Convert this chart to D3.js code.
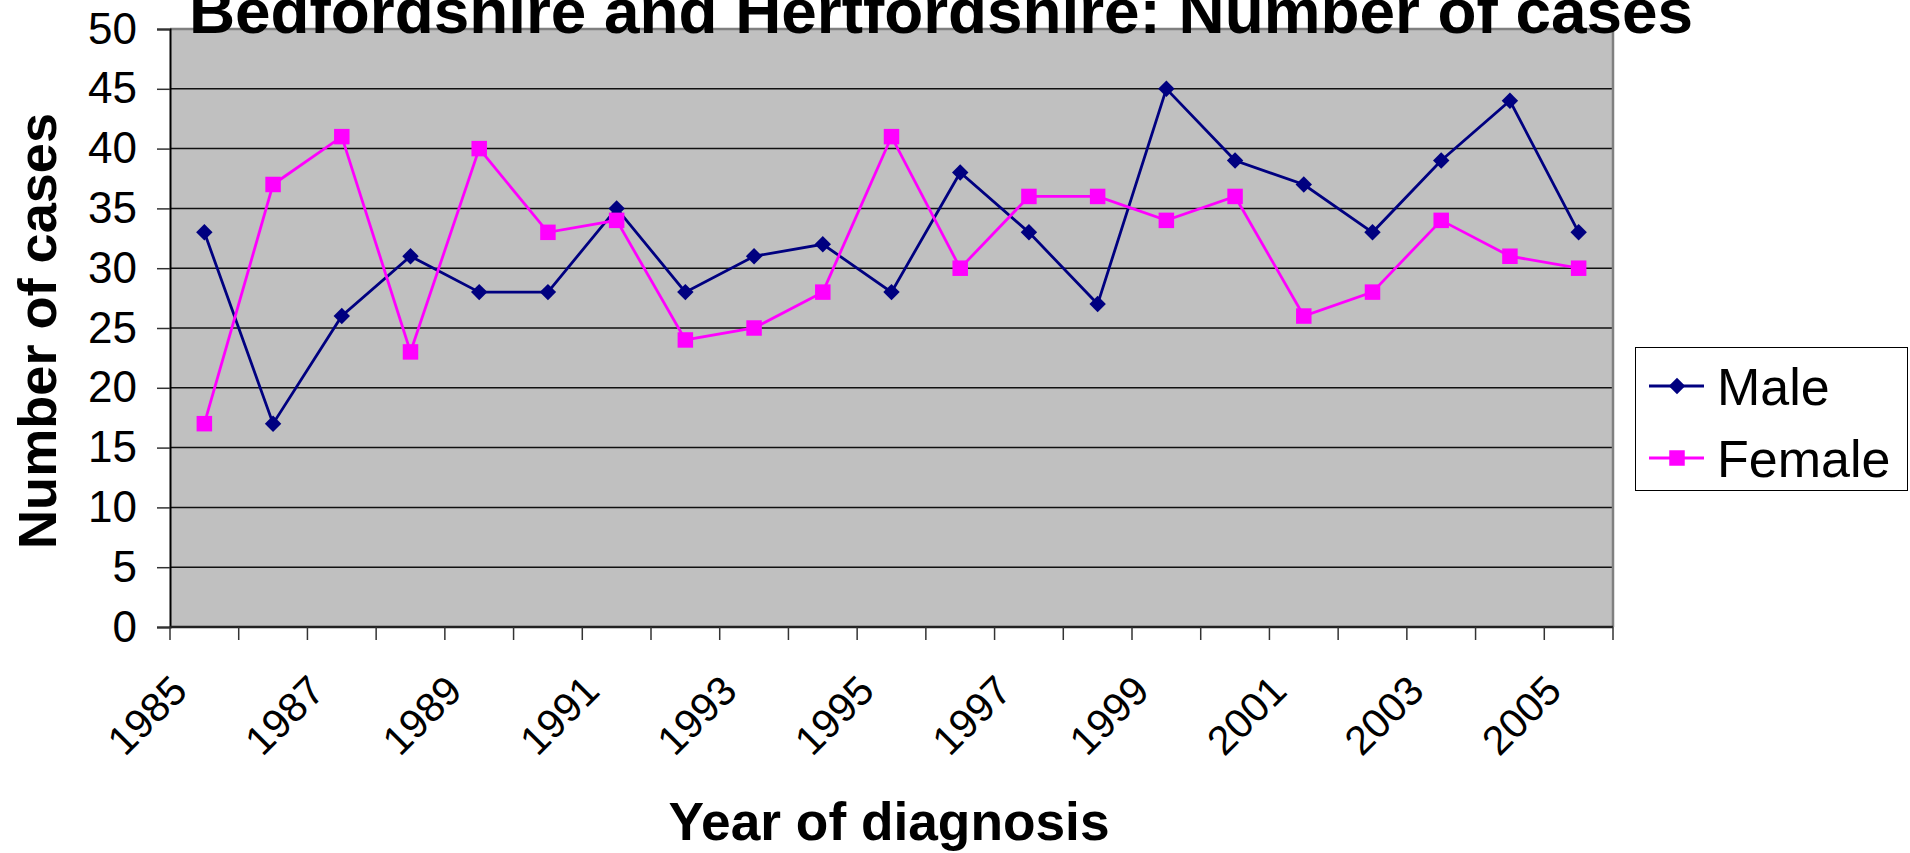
<!DOCTYPE html>
<html>
<head>
<meta charset="utf-8">
<script src="https://cdn.jsdelivr.net/npm/d3@7"></script>
<style>
  body { margin: 0; background: #fff; }
  svg { display: block; font-family: "Liberation Sans", Arial, sans-serif; }
</style>
</head>
<body>
<div id="chart"></div>
<script>
// chart values
var years = [1985,1986,1987,1988,1989,1990,1991,1992,1993,1994,1995,1996,1997,1998,1999,2000,2001,2002,2003,2004,2005];
var male = [33,17,26,31,28,28,35,28,31,32,28,38,33,27,45,39,37,33,39,44,33];
var female = [17,37,41,23,40,33,34,24,25,28,41,30,36,36,34,36,26,28,34,31,30];
var yTicks = [0,5,10,15,20,25,30,35,40,45,50];
var xLabels = [1985,1987,1989,1991,1993,1995,1997,1999,2001,2003,2005];
var seriesNames = ["Male", "Female"];

var width = 1910, height = 853;
// plot area edges (note: "top" is taken by window.top)
var pLeft = 170, pRight = 1613, pTop = 29, pBottom = 627;

var svg = d3.select("#chart").append("svg")
  .attr("width", width)
  .attr("height", height);

var x = d3.scaleBand().domain(years).range([pLeft, pRight]).padding(0);
var y = d3.scaleLinear().domain([0, 50]).range([pBottom, pTop]);

// plot background
svg.append("rect")
  .attr("x", pLeft).attr("y", pTop)
  .attr("width", pRight - pLeft).attr("height", pBottom - pTop)
  .attr("fill", "#c0c0c0");

// gridlines
svg.selectAll(".grid")
  .data(yTicks.filter(function(d){ return d > 0 && d < 50; }))
  .enter().append("line")
  .attr("x1", pLeft).attr("x2", pRight)
  .attr("y1", function(d){ return y(d); })
  .attr("y2", function(d){ return y(d); })
  .attr("stroke", "#111")
  .attr("stroke-width", 1.5);

// top / right border
svg.append("path")
  .attr("d", "M" + pLeft + "," + pTop + "H" + pRight + "V" + pBottom)
  .attr("fill", "none")
  .attr("stroke", "#808080")
  .attr("stroke-width", 2.5);

// y axis
var yAxis = svg.append("g")
  .attr("transform", "translate(" + pLeft + ",0)")
  .call(d3.axisLeft(y).tickValues(yTicks).tickSize(13).tickPadding(20));
yAxis.select(".domain").attr("stroke", "#000").attr("stroke-width", 2);
yAxis.selectAll(".tick line").attr("stroke", "#333").attr("stroke-width", 1.5);
yAxis.selectAll("text")
  .attr("font-size", 44)
  .attr("font-family", "Liberation Sans, Arial, sans-serif")
  .attr("fill", "#000");

// x axis line and ticks at category boundaries
svg.append("line")
  .attr("x1", pLeft).attr("x2", pRight)
  .attr("y1", pBottom).attr("y2", pBottom)
  .attr("stroke", "#222").attr("stroke-width", 2.5);

var bounds = years.map(function(d){ return x(d); }).concat([x.range()[1]]);
svg.selectAll(".xtick")
  .data(bounds)
  .enter().append("line")
  .attr("x1", function(d){ return d; }).attr("x2", function(d){ return d; })
  .attr("y1", pBottom).attr("y2", pBottom + 13)
  .attr("stroke", "#333").attr("stroke-width", 1.5);

svg.selectAll(".xlabel")
  .data(xLabels)
  .enter().append("text")
  .attr("transform", function(d){
    return "translate(" + (x(d) + x.bandwidth() / 2 - 15) + "," + 693 + ") rotate(-45)";
  })
  .attr("text-anchor", "end")
  .attr("font-size", 41)
  .attr("fill", "#000")
  .text(function(d){ return d; });

// lines
var line = d3.line()
  .x(function(d, i){ return x(years[i]) + x.bandwidth() / 2; })
  .y(function(d){ return y(d); });

svg.append("path").datum(male)
  .attr("d", line).attr("fill", "none")
  .attr("stroke", "#000080").attr("stroke-width", 2.8);

svg.append("path").datum(female)
  .attr("d", line).attr("fill", "none")
  .attr("stroke", "#ff00ff").attr("stroke-width", 2.8);

var diamond = d3.symbol().type(d3.symbolSquare).size(135);
var square = d3.symbol().type(d3.symbolSquare).size(240);

svg.selectAll(".mpt")
  .data(male)
  .enter().append("path")
  .attr("d", diamond)
  .attr("transform", function(d, i){
    return "translate(" + (x(years[i]) + x.bandwidth() / 2) + "," + y(d) + ") rotate(45)";
  })
  .attr("fill", "#000080");

svg.selectAll(".fpt")
  .data(female)
  .enter().append("path")
  .attr("d", square)
  .attr("transform", function(d, i){
    return "translate(" + (x(years[i]) + x.bandwidth() / 2) + "," + y(d) + ")";
  })
  .attr("fill", "#ff00ff");

// titles
svg.append("text")
  .attr("x", 941).attr("y", 33)
  .attr("text-anchor", "middle")
  .attr("font-size", 63)
  .attr("font-weight", "bold")
  .attr("textLength", 1504)
  .attr("lengthAdjust", "spacingAndGlyphs")
  .text("Bedfordshire and Hertfordshire: Number of cases");

svg.append("text")
  .attr("x", 889).attr("y", 840)
  .attr("text-anchor", "middle")
  .attr("font-size", 53)
  .attr("font-weight", "bold")
  .attr("textLength", 441)
  .attr("lengthAdjust", "spacingAndGlyphs")
  .text("Year of diagnosis");

svg.append("text")
  .attr("transform", "translate(56,331) rotate(-90)")
  .attr("text-anchor", "middle")
  .attr("font-size", 54)
  .attr("font-weight", "bold")
  .attr("textLength", 436)
  .attr("lengthAdjust", "spacingAndGlyphs")
  .text("Number of cases");

// legend
var legend = svg.append("g");
legend.append("rect")
  .attr("x", 1635.5).attr("y", 347.5)
  .attr("width", 272).attr("height", 143)
  .attr("fill", "#fff")
  .attr("stroke", "#000").attr("stroke-width", 1);

var rows = [386, 458];
var colors = ["#000080", "#ff00ff"];
seriesNames.forEach(function(name, i){
  legend.append("line")
    .attr("x1", 1649).attr("x2", 1704)
    .attr("y1", rows[i]).attr("y2", rows[i])
    .attr("stroke", colors[i]).attr("stroke-width", 2.8);
  legend.append("path")
    .attr("d", i === 0 ? diamond : square)
    .attr("transform", "translate(1677," + rows[i] + ")" + (i === 0 ? " rotate(45)" : ""))
    .attr("fill", colors[i]);
  legend.append("text")
    .attr("x", 1717).attr("y", rows[i])
    .attr("dy", "0.36em")
    .attr("font-size", 52)
    .attr("fill", "#000")
    .text(name);
});
</script>
</body>
</html>
